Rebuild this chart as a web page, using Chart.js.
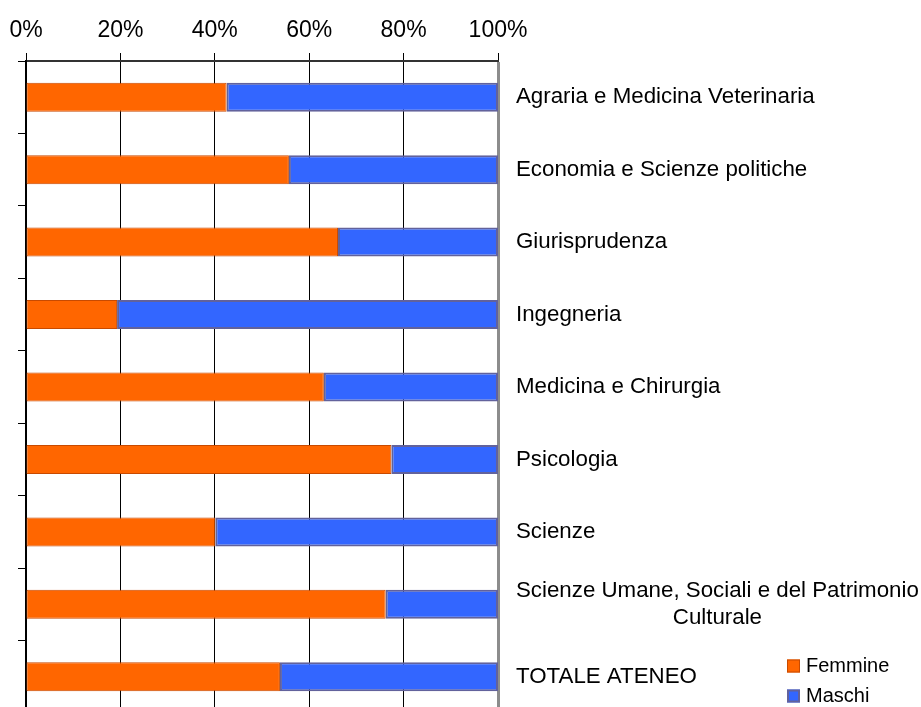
<!DOCTYPE html>
<html><head><meta charset="utf-8">
<script src="https://cdn.jsdelivr.net/npm/chart.js@4.4.1/dist/chart.umd.min.js"></script>
<style>html,body{margin:0;padding:0;background:#fff;overflow:hidden;} canvas{display:block;}</style>
</head><body>
<canvas id="c" width="921" height="720"></canvas>
<script>
const categories = [
  'Agraria e Medicina Veterinaria',
  'Economia e Scienze politiche',
  'Giurisprudenza',
  'Ingegneria',
  'Medicina e Chirurgia',
  'Psicologia',
  'Scienze',
  ['Scienze Umane, Sociali e del Patrimonio', 'Culturale'],
  'TOTALE ATENEO'
];
const femmine = [42.5, 55.7, 66.1, 19.3, 63.1, 77.4, 40.1, 76.2, 53.8];
const maschi  = [57.5, 44.3, 33.9, 80.7, 36.9, 22.6, 59.9, 23.8, 46.2];
const xTicks = [0, 20, 40, 60, 80, 100];
const seriesNames = ['Femmine', 'Maschi'];

const FONT = '"Liberation Sans", Arial, sans-serif';
Chart.defaults.font.family = FONT;
Chart.defaults.color = '#000';

const rightLabels = {
  id: 'rightLabels',
  afterDraw(chart) {
    const {ctx, chartArea, scales: {y}} = chart;
    ctx.save();
    ctx.font = '22.3px ' + FONT;
    ctx.fillStyle = '#000';
    ctx.textBaseline = 'middle';
    ctx.textAlign = 'left';
    const x0 = chartArea.right + 18;
    const lh = 27;
    categories.forEach((lab, i) => {
      const lines = Array.isArray(lab) ? lab : [lab];
      const yc = y.getPixelForValue(i);
      const widths = lines.map(l => ctx.measureText(l).width);
      const maxW = Math.max(...widths);
      lines.forEach((l, j) => {
        const yy = yc + (j - (lines.length - 1) / 2) * lh;
        ctx.fillText(l, x0 + (maxW - widths[j]) / 2, yy);
      });
    });
    ctx.restore();
  }
};

const customLegend = {
  id: 'customLegend',
  afterDraw(chart) {
    const {ctx} = chart;
    ctx.save();
    ctx.font = '20px ' + FONT;
    ctx.textBaseline = 'middle';
    ctx.textAlign = 'left';
    const items = [
      {y: 666, ds: chart.data.datasets[0]},
      {y: 696, ds: chart.data.datasets[1]}
    ];
    items.forEach(it => {
      const bw = it.ds.borderWidth;
      ctx.fillStyle = it.ds.backgroundColor;
      ctx.fillRect(787, it.y - 6.5, 13, 13);
      ctx.strokeStyle = it.ds.borderColor;
      ctx.lineWidth = bw;
      ctx.strokeRect(787 + bw / 2, it.y - 6.5 + bw / 2, 13 - bw, 13 - bw);
      ctx.fillStyle = '#000';
      ctx.fillText(it.ds.label, 806, it.y);
    });
    ctx.restore();
  }
};

new Chart(document.getElementById('c'), {
  type: 'bar',
  data: {
    labels: categories,
    datasets: [
      {label: seriesNames[0], data: femmine, backgroundColor: '#FF6600', borderColor: '#C84A00', borderWidth: 1, borderSkipped: false, barPercentage: 0.4, categoryPercentage: 1},
      {label: seriesNames[1], data: maschi, backgroundColor: '#3366FF', borderColor: '#62629C', borderWidth: 2, borderSkipped: false, barPercentage: 0.4, categoryPercentage: 1}
    ]
  },
  options: {
    indexAxis: 'y',
    responsive: false,
    animation: false,
    devicePixelRatio: 1,
    layout: {padding: {top: 0, left: 0, right: 423, bottom: 7}},
    plugins: {legend: {display: false}, tooltip: {enabled: false}},
    scales: {
      x: {
        position: 'top', min: 0, max: 100, stacked: true,
        afterFit: s => { s.height = 61; s.paddingLeft = 0; s.paddingRight = 0; },
        afterBuildTicks: s => { s.ticks = xTicks.map(v => ({value: v})); },
        ticks: {callback: v => v + '%', color: '#000', font: {size: 23}, padding: 9, maxRotation: 0, autoSkip: false},
        grid: {
          color: c => (c.tick && c.tick.value === 100) ? '#8c8c8c' : '#000',
          lineWidth: c => (c.tick && c.tick.value === 100) ? 3 : 1,
          tickLength: 8, tickColor: '#000', tickWidth: 1
        },
        border: {color: '#333', width: 2}
      },
      y: {
        position: 'left', stacked: true,
        afterFit: s => { s.width = 26; },
        ticks: {display: false},
        grid: {offset: true, drawOnChartArea: false, tickLength: 8, color: '#000'},
        border: {color: '#000', width: 2}
      }
    }
  },
  plugins: [rightLabels, customLegend]
});
</script>
</body></html>
